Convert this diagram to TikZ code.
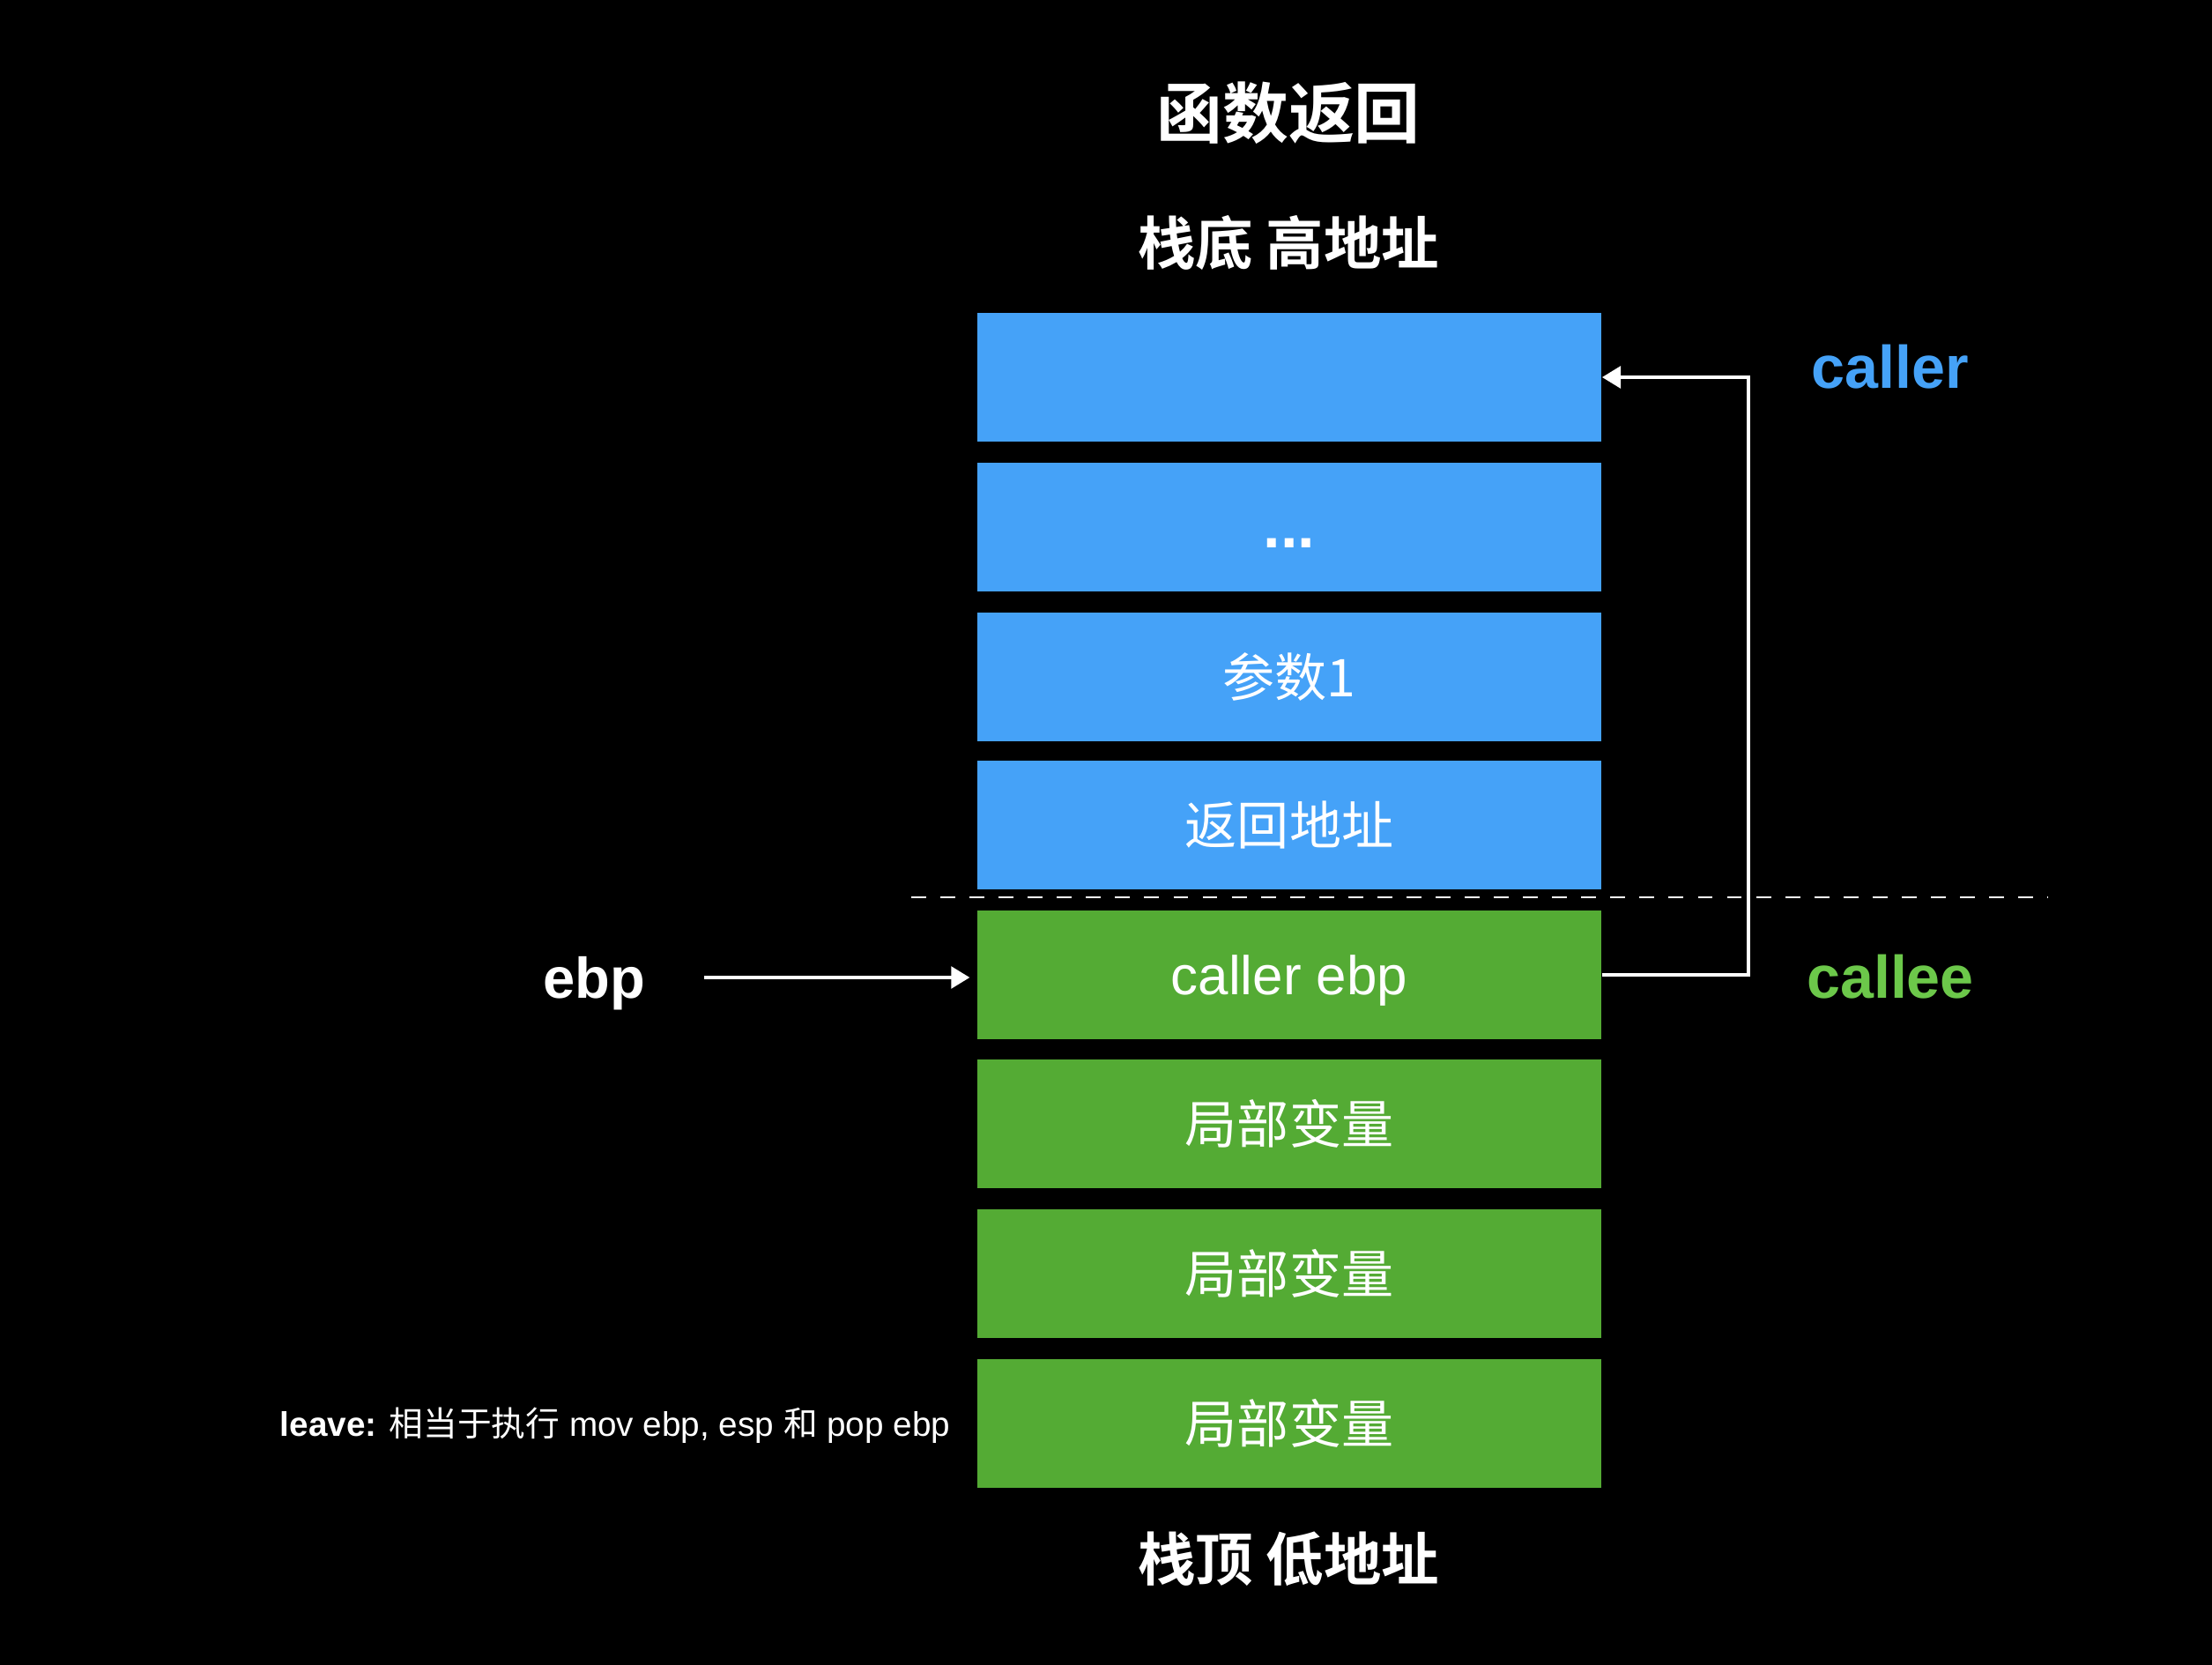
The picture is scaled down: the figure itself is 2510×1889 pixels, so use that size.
\documentclass[tikz,border=0pt]{standalone}
\usepackage{fontspec}
\setmainfont{Liberation Sans}
\newfontfamily\cjk{Noto Sans CJK SC}
\newfontfamily\cjkb{Noto Sans CJK SC Bold}
\usetikzlibrary{arrows.meta}
\definecolor{boxblue}{HTML}{45A2F8}
\definecolor{boxgreen}{HTML}{54AB34}
\definecolor{calleegreen}{HTML}{6CC84A}
\begin{document}
\begin{tikzpicture}[x=0.01cm,y=-0.01cm,
  cell/.style={minimum width=7.08cm,minimum height=1.46cm,inner sep=0pt,text=white},
  bluecell/.style={cell,fill=boxblue},
  greencell/.style={cell,fill=boxgreen},
  celltxt/.style={font=\cjk\fontsize{16.8}{20}\selectfont},
  heading/.style={text=white,font=\cjkb\fontsize{18.6}{22}\selectfont},
  conn/.style={draw=white,line width=1.1pt,-{Triangle[length=6pt,width=7pt]}}]
\fill[black] (0,0) rectangle (2510,1889);
\node[text=white,font=\cjkb\fontsize{21.3}{26}\selectfont] (title) at (1462,128) {函数返回};
\node[heading] (bottom) at (1462,275) {栈底 高地址};
\node[heading] (top) at (1462,1769) {栈顶 低地址};
\node[bluecell] (b1) at (1463,428) {};
\node[bluecell] (b2) at (1463,598) {};
\node[text=white,inner sep=0pt,font=\bfseries\fontsize{20}{22}\selectfont] (dots) at ([yshift=-0.18cm]b2.center) {...};
\node[bluecell,celltxt] (b3) at (1463,768) {参数1};
\node[bluecell,celltxt] (b4) at (1463,936) {返回地址};
\node[greencell,text depth=0pt,font=\fontsize{17.6}{20}\selectfont] (b5) at (1463,1106) {caller ebp};
\node[greencell,celltxt] (b6) at (1463,1275) {局部变量};
\node[greencell,celltxt] (b7) at (1463,1445) {局部变量};
\node[greencell,celltxt] (b8) at (1463,1615) {局部变量};
\coordinate (dl) at (1034,1018);
\coordinate (dr) at (2324,1018);
\draw[white,line width=0.85pt,dash pattern=on 4.8pt off 4.6pt] (dl) -- (dr);
\node[text=boxblue,font=\bfseries\fontsize{19.4}{22}\selectfont] (caller) at (2145,416) {caller};
\node[text=calleegreen,font=\bfseries\fontsize{19.4}{22}\selectfont] (callee) at (2145,1108) {callee};
\node[text=white,text depth=0pt,font=\bfseries\fontsize{18.5}{22}\selectfont] (ebp) at (674,1109) {ebp};
\coordinate (ebpstart) at (799,1109);
\draw[conn,shorten >=2.2pt] (ebpstart) -- (ebpstart -| b5.west);
\draw[conn] (b5.east) -- ++(166,0) |- (b1.east);
\node[text=white,anchor=east,inner sep=0pt,font=\fontsize{11}{13}\selectfont] (leave) at (1079,1617) {\textbf{leave:} {\cjk 相当于执行} mov ebp, esp {\cjk 和} pop ebp};
\end{tikzpicture}
\end{document}
